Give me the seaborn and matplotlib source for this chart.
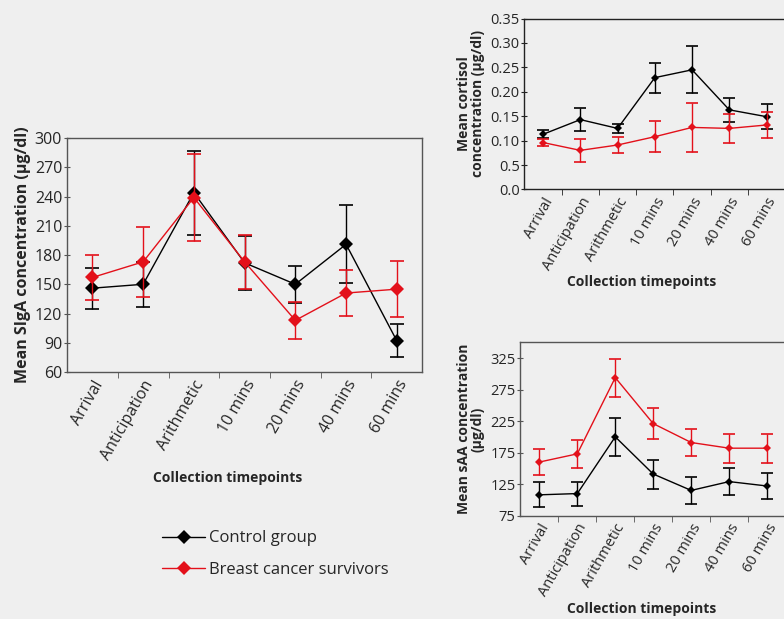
import matplotlib
matplotlib.use("Agg")
import matplotlib.pyplot as plt
from matplotlib.lines import Line2D
import seaborn as sns
import pandas as pd
import numpy as np

timepoints = ["Arrival", "Anticipation", "Arithmetic", "10 mins", "20 mins", "40 mins", "60 mins"]
groups = ["Control group", "Breast cancer survivors"]

siga_control = [146, 150, 244, 172, 150, 191, 92]
siga_control_err = [21, 23, 43, 28, 19, 40, 17]
siga_bcs = [157, 173, 239, 173, 113, 141, 145]
siga_bcs_err = [23, 36, 45, 28, 19, 24, 29]

cort_control = [0.113, 0.143, 0.125, 0.229, 0.245, 0.163, 0.149]
cort_control_err = [0.008, 0.024, 0.009, 0.031, 0.048, 0.025, 0.026]
cort_bcs = [0.096, 0.080, 0.091, 0.108, 0.127, 0.125, 0.132]
cort_bcs_err = [0.007, 0.023, 0.016, 0.032, 0.050, 0.030, 0.027]

saa_control = [108, 110, 200, 141, 115, 129, 122]
saa_control_err = [20, 19, 30, 23, 22, 22, 20]
saa_bcs = [160, 173, 294, 221, 191, 182, 182]
saa_bcs_err = [20, 22, 30, 24, 22, 23, 23]

siga_ticks = [60, 90, 120, 150, 180, 210, 240, 270, 300]
cort_ticks = [0.0, 0.05, 0.10, 0.15, 0.20, 0.25, 0.30, 0.35]
cort_ticklabels = ["0.0", "0.5", "0.10", "0.15", "0.20", "0.25", "0.30", "0.35"]
saa_ticks = [75, 125, 175, 225, 275, 325]

BG = "#efefef"
BLACK = "#000000"
RED = "#e3101a"
palette = {groups[0]: BLACK, groups[1]: RED}

sns.set_style("ticks")
plt.rcParams["font.family"] = ["Open Sans", "DejaVu Sans"]

fig = plt.figure(figsize=(7.84, 6.19), dpi=100, facecolor=BG)


def make_df(c, ce, b, be):
    return pd.DataFrame({
        "time": timepoints * 2,
        "group": [groups[0]] * 7 + [groups[1]] * 7,
        "value": list(c) + list(b),
        "err": list(ce) + list(be),
    })


def draw(ax, df, msize, capsize, tickfs, labelfs, ylabel, ylim, yticks, yticklabels,
         spinecol, xlab_coords, ylabelpad, right_spine=True):
    ax.set_facecolor(BG)
    for g in groups:
        sub = df[df.group == g]
        x = np.arange(len(timepoints))
        ax.errorbar(x, sub["value"].values, yerr=sub["err"].values, fmt="none",
                    ecolor=palette[g], elinewidth=1.0, capsize=capsize, capthick=1.2,
                    zorder=2 if g == groups[0] else 3)
    sns.lineplot(data=df, x="time", y="value", hue="group", style="group",
                 palette=palette, markers={groups[0]: "D", groups[1]: "D"},
                 dashes=False, markersize=msize, markeredgewidth=0, linewidth=1.0,
                 legend=False, ax=ax, sort=False)
    ax.set_xlim(-0.5, 6.5)
    ax.set_ylim(*ylim)
    ax.set_yticks(yticks)
    ax.set_yticklabels(yticklabels, fontsize=tickfs)
    ax.set_xticks(range(7))
    ax.set_xticklabels(timepoints, rotation=60, ha="right", rotation_mode="anchor",
                       fontsize=tickfs)
    ax.set_xticks(np.arange(0.5, 6.0, 1.0), minor=True)
    ax.tick_params(axis="x", which="major", length=0, pad=4)
    ax.tick_params(axis="x", which="minor", length=4, direction="out", color=spinecol)
    ax.tick_params(axis="y", length=5, direction="inout", color=spinecol, pad=1)
    ax.set_xlabel("Collection timepoints", fontsize=labelfs, fontweight="bold")
    ax.xaxis.set_label_coords(*xlab_coords)
    ax.set_ylabel(ylabel, fontsize=labelfs if "\n" in ylabel else labelfs + 1.5,
                  fontweight="bold", labelpad=ylabelpad, linespacing=1.0)
    for s in ["left", "bottom", "top", "right"]:
        ax.spines[s].set_color(spinecol)
        ax.spines[s].set_linewidth(1.0)
    ax.spines["right"].set_visible(right_spine)


ax1 = fig.add_axes([0.0855, 0.399, 0.453, 0.378])
draw(ax1, make_df(siga_control, siga_control_err, siga_bcs, siga_bcs_err),
     msize=6.8, capsize=5, tickfs=11.5, labelfs=10,
     ylabel="Mean SIgA concentration (µg/dl)", ylim=(60, 300), yticks=siga_ticks,
     yticklabels=[str(t) for t in siga_ticks], spinecol="#555555",
     xlab_coords=(0.453, -0.423), ylabelpad=3)

ax2 = fig.add_axes([0.669, 0.694, 0.3325, 0.276])
draw(ax2, make_df(cort_control, cort_control_err, cort_bcs, cort_bcs_err),
     msize=4.5, capsize=4, tickfs=10.5, labelfs=10,
     ylabel="Mean cortisol\nconcentration (µg/dl)", ylim=(0, 0.35), yticks=cort_ticks,
     yticklabels=cort_ticklabels, spinecol="#222222",
     xlab_coords=(0.448, -0.501), ylabelpad=4, right_spine=False)

ax3 = fig.add_axes([0.6637, 0.167, 0.339, 0.280])
draw(ax3, make_df(saa_control, saa_control_err, saa_bcs, saa_bcs_err),
     msize=4.5, capsize=4, tickfs=10.5, labelfs=10,
     ylabel="Mean sAA concentration\n(µg/dl)", ylim=(75, 350), yticks=saa_ticks,
     yticklabels=[str(t) for t in saa_ticks], spinecol="#555555",
     xlab_coords=(0.456, -0.496), ylabelpad=4, right_spine=False)

handles = [Line2D([], [], color=palette[g], marker="D", markersize=6.8,
                  markeredgewidth=0, linewidth=1.0) for g in groups]
fig.legend(handles, groups, loc="upper left", bbox_to_anchor=(0.2066, 0.143),
           frameon=False, fontsize=12, handlelength=2.6, handletextpad=0.25,
           labelspacing=0.95, borderpad=0, borderaxespad=0)

fig.savefig("out.png", dpi=100, facecolor=BG)
